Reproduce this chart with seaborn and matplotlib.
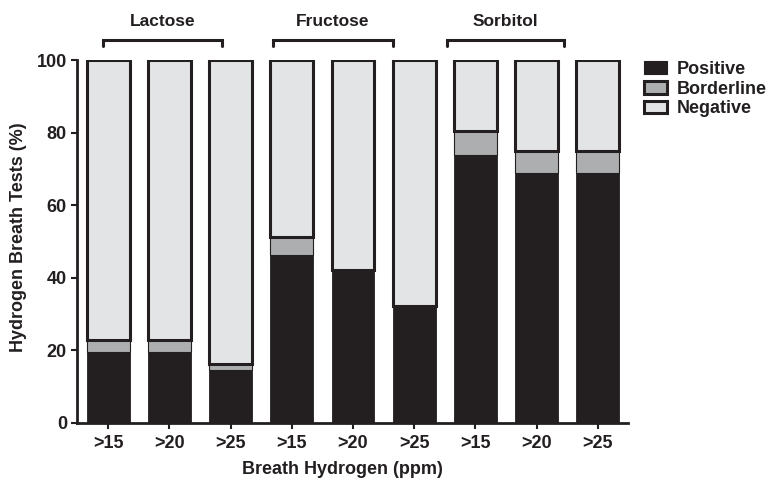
import numpy as np
import pandas as pd
import matplotlib
matplotlib.use("Agg")
import matplotlib.pyplot as plt
import seaborn as sns
from matplotlib.patches import Patch

# ---- data ----
groups = ["Lactose", "Fructose", "Sorbitol"]
thresholds = [">15", ">20", ">25"]
positive = [19.6, 19.6, 14.6, 46.2, 42.0, 32.3, 73.7, 68.9, 68.9]
borderline = [3.1, 3.1, 1.7, 5.1, 0.0, 0.0, 6.7, 6.1, 6.1]
negative = [100 - p - b for p, b in zip(positive, borderline)]
legend_labels = ["Positive", "Borderline", "Negative"]
x_label = "Breath Hydrogen (ppm)"
y_label = "Hydrogen Breath Tests (%)"
y_ticks = [0, 20, 40, 60, 80, 100]

# ---- style ----
sns.set_theme(style="ticks")
plt.rcParams['font.family'] = ['Liberation Sans', 'DejaVu Sans']
plt.rcParams['font.weight'] = 'bold'

c_pos = "#231f20"
c_bord = "#adaeb0"
c_neg = "#e3e4e6"
c_line = "#231f20"

keys = [f"{g} {t}" for g in groups for t in thresholds]
df = pd.DataFrame({"key": keys, "pos": positive, "bord": borderline, "neg": negative})
df["cum"] = df["pos"] + df["bord"]

fig = plt.figure(figsize=(7.67, 4.82), dpi=100)
ax = fig.add_axes([0.1, 0.123, 0.7188, 0.7525])

common = dict(x="key", order=keys, width=0.7, errorbar=None, saturation=1, ax=ax)
sns.barplot(data=df, y="pos", color=c_pos, edgecolor=c_pos, linewidth=0.6, **common)
sns.barplot(data=df, y="bord", bottom=df["pos"].values, color=c_bord,
            edgecolor=c_line, linewidth=0.8, **common)
sns.barplot(data=df, y="neg", bottom=df["cum"].values, color=c_neg,
            edgecolor=c_line, linewidth=2.2, **common)

ax.set_xlim(-0.517, 8.496)
ax.set_ylim(0, 100)
ax.set_yticks(y_ticks)
ax.set_yticklabels([str(v) for v in y_ticks], fontsize=13, fontweight='bold', color=c_line)
ax.set_xticks(range(len(keys)))
ax.set_xticklabels(thresholds * len(groups), fontsize=13, fontweight='bold', color=c_line)
ax.tick_params(axis='both', length=4, width=1.5, color=c_line, pad=3)
ax.tick_params(axis='x', pad=5)

for s in ["top", "right"]:
    ax.spines[s].set_visible(False)
for s in ["left", "bottom"]:
    ax.spines[s].set_linewidth(2)
    ax.spines[s].set_color(c_line)
    ax.spines[s].set_zorder(5)

ax.set_xlabel(x_label, fontsize=13, fontweight='bold', color=c_line, va='center')
ax.xaxis.set_label_coords(0.482, -0.128)
ax.set_ylabel(y_label, fontsize=13, fontweight='bold', color=c_line, va='center')
ax.yaxis.set_label_coords(-0.1047, 0.512)

# group brackets
bracket_ends = [(-0.087, 1.86), (2.69, 4.65), (5.53, 7.45)]
for g, (x0, x1) in zip(groups, bracket_ends):
    ax.plot([x0, x0, x1, x1], [104.0, 105.5, 105.5, 104.0], color=c_line, lw=2.2,
            clip_on=False, solid_joinstyle='miter')
    ax.text((x0 + x1) / 2, 110.6, g, ha='center', va='center', fontsize=12.5,
            fontweight='bold', color=c_line, clip_on=False)

handles = [Patch(facecolor=c_pos, edgecolor=c_line, linewidth=0.8),
           Patch(facecolor=c_bord, edgecolor=c_line, linewidth=2.2),
           Patch(facecolor=c_neg, edgecolor=c_line, linewidth=2.2)]
fig.legend(handles, legend_labels, loc='upper left', bbox_to_anchor=(644 / 767, 1 - 61 / 482),
           frameon=False, borderpad=0, borderaxespad=0, handlelength=1.3, handleheight=0.7,
           handletextpad=0.5, labelspacing=0.15,
           prop={'size': 13, 'weight': 'bold'}, labelcolor=c_line)

fig.savefig("out.png", dpi=100)
